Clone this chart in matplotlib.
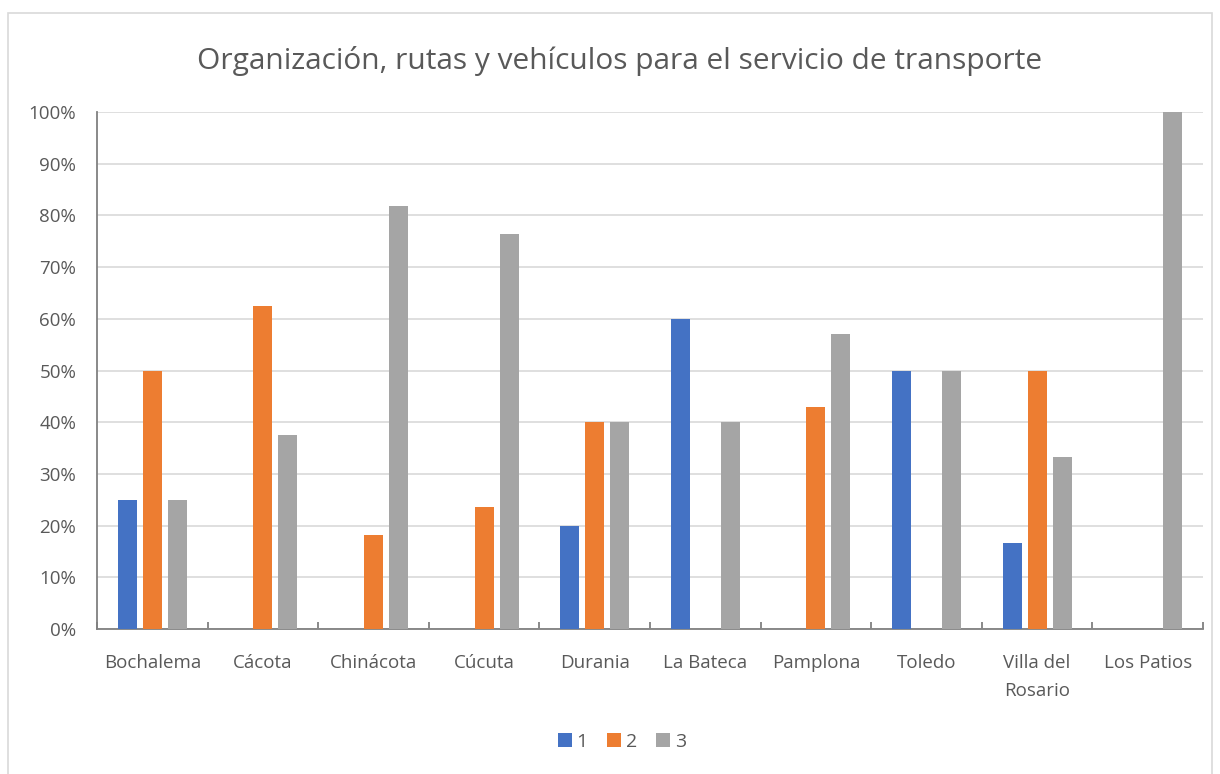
import matplotlib
matplotlib.use("Agg")
import matplotlib.pyplot as plt
import numpy as np
from matplotlib.patches import Rectangle

categories = ["Bochalema", "Cácota", "Chinácota", "Cúcuta", "Durania", "La Bateca",
              "Pamplona", "Toledo", "Villa del\nRosario", "Los Patios"]
series_names = ["1", "2", "3"]
s1 = [0.25, 0.0, 0.0, 0.0, 0.20, 0.60, 0.0, 0.50, 0.1667, 0.0]
s2 = [0.50, 0.625, 0.1818, 0.2353, 0.40, 0.0, 0.4286, 0.0, 0.50, 0.0]
s3 = [0.25, 0.375, 0.8182, 0.7647, 0.40, 0.40, 0.5714, 0.50, 0.3333, 1.0]
colors = ["#4472C4", "#ED7D31", "#A5A5A5"]
title = "Organización, rutas y vehículos para el servicio de transporte"

plt.rcParams['font.family'] = ['Open Sans', 'DejaVu Sans']
txt = "#595959"

fig = plt.figure(figsize=(12.2, 7.74), dpi=100)
W, H = 1220, 774
# outer chart border
fig.patches.append(Rectangle((8 / W, -0.01), (1212 - 8) / W, (774 - 13) / H + 0.01,
                             transform=fig.transFigure, fill=False,
                             edgecolor="#D9D9D9", linewidth=1.2))

ax = fig.add_axes([97 / W, 1 - 629 / H, (1203 - 97) / W, (629 - 112) / H])
x = np.arange(len(categories))
bw = 0.172
off = 0.226
for i, (vals, c, n) in enumerate(zip([s1, s2, s3], colors, series_names)):
    ax.bar(x + (i - 1) * off, vals, width=bw, color=c, label=n, zorder=3)

ax.set_xlim(-0.5, len(categories) - 0.5)
ax.set_ylim(0, 1.0)
ax.set_yticks(np.arange(0, 1.01, 0.1))
ax.set_yticklabels([f"{int(round(v * 100))}%" for v in np.arange(0, 1.01, 0.1)])
ax.yaxis.grid(True, color="#D9D9D9", linewidth=1.2, zorder=0)
ax.set_axisbelow(True)

for s in ["top", "right"]:
    ax.spines[s].set_visible(False)
for s in ["left", "bottom"]:
    ax.spines[s].set_color("#808080")
    ax.spines[s].set_linewidth(1.3)

ax.tick_params(axis="y", length=0, labelsize=13.5, labelcolor=txt, pad=15)
ax.set_xticks(x)
ax.set_xticklabels(categories, fontsize=13.5, color=txt, linespacing=1.7, va="top")
ax.tick_params(axis="x", length=0, pad=18)
# minor ticks between categories
ax.set_xticks(np.arange(-0.5, len(categories), 1.0), minor=True)
ax.tick_params(axis="x", which="minor", length=5, direction="in", color="#808080", width=1.3)

fig.text(620 / W, 1 - 61 / H, title, ha="center", va="center", fontsize=21.5, color=txt)

leg = fig.legend(loc="center", bbox_to_anchor=(622 / W, 1 - 742 / H), ncol=3,
                 frameon=False, fontsize=14, handlelength=0.7, handleheight=0.7,
                 handletextpad=0.25, columnspacing=1.0)
for t in leg.get_texts():
    t.set_color(txt)

fig.savefig("out.png", dpi=100, facecolor="white")
